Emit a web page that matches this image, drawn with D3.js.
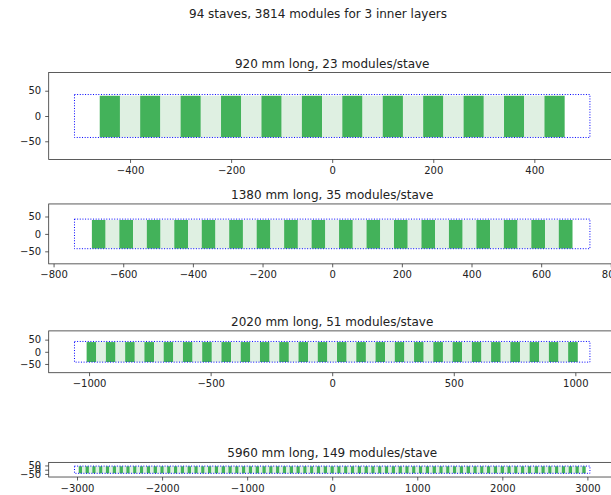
<!DOCTYPE html>
<html>
<head>
<meta charset="utf-8">
<script src="https://cdn.jsdelivr.net/npm/d3@7"></script>
<style>
  body { margin: 0; background: #fff; }
  text { font-family: "DejaVu Sans", sans-serif; fill: #222; }
</style>
</head>
<body>
<div id="chart"></div>
<script>
var w = 611;
var h = 495;

// stave data
var staveLengths = [920, 1380, 2020, 5960];      // mm
var moduleCounts = [23, 35, 51, 149];            // modules per stave
var xTickValues = [
  [-400, -200, 0, 200, 400],
  [-800, -600, -400, -200, 0, 200, 400, 600, 800],
  [-1000, -500, 0, 500, 1000],
  [-3000, -2000, -1000, 0, 1000, 2000, 3000]
];
var yTickValues = [-50, 0, 50];
var staveCount = 94;
var totalModules = 3814;
var layerCount = 3;

// geometry (mm)
var endMargin = 50;        // stave extends past modules at each end
var staveHalfHeight = 42.5;
var moduleBottom = -42, moduleTop = 40;
var yLimit = 86;

// layout (px)
var axLeft = 48.7, axRight = 615.7;
var axWidth = axRight - axLeft;
var firstCenter = 116, centerStep = 117.9;

var darkGreen = "#43b25a";
var lightGreen = "#dff0e2";
var tickFormat = d3.format("d");

var svg = d3.select("#chart")
  .append("svg")
  .attr("width", w)
  .attr("height", h);

svg.append("text")
  .attr("x", 318)
  .attr("y", 18)
  .attr("text-anchor", "middle")
  .style("font-size", "12px")
  .text(staveCount + " staves, " + totalModules + " modules for " + layerCount + " inner layers");

staveLengths.forEach(function(len, k) {
  var n = moduleCounts[k];
  var staveHalf = len / 2 + endMargin;
  var xLim = staveHalf * 1.1;
  var pxPerUnit = axWidth / (2 * xLim);
  var axHeight = 2 * yLimit * pxPerUnit;   // equal aspect
  var cy = firstCenter + centerStep * k;
  var top = cy - axHeight / 2;

  var x = d3.scaleLinear().domain([-xLim, xLim]).range([axLeft, axRight]);
  var y = d3.scaleLinear().domain([-yLimit, yLimit]).range([top + axHeight, top]);

  var g = svg.append("g");

  var modules = d3.range(n).map(function(i) {
    return { x0: -len / 2 + i * len / n, x1: -len / 2 + (i + 1) * len / n, i: i };
  });

  g.selectAll("rect.module")
    .data(modules)
    .enter()
    .append("rect")
    .attr("class", "module")
    .attr("x", function(d) { return x(d.x0); })
    .attr("width", function(d) { return x(d.x1) - x(d.x0); })
    .attr("y", y(moduleTop))
    .attr("height", y(moduleBottom) - y(moduleTop))
    .attr("fill", function(d) { return d.i % 2 === 0 ? darkGreen : lightGreen; });

  // stave outline
  g.append("rect")
    .attr("x", x(-staveHalf))
    .attr("y", y(staveHalfHeight))
    .attr("width", x(staveHalf) - x(-staveHalf))
    .attr("height", y(-staveHalfHeight) - y(staveHalfHeight))
    .attr("fill", "none")
    .attr("stroke", "#0000ff")
    .attr("stroke-width", 1)
    .attr("stroke-dasharray", "1,1.65");

  // axes
  var xAxis = d3.axisBottom(x).tickValues(xTickValues[k]).tickFormat(tickFormat)
    .tickSizeOuter(0).tickSize(3.5).tickPadding(4);
  var yAxis = d3.axisLeft(y).tickValues(yTickValues).tickFormat(tickFormat)
    .tickSizeOuter(0).tickSize(3.5).tickPadding(4);

  var gx = g.append("g")
    .attr("transform", "translate(0," + (top + axHeight) + ")")
    .call(xAxis);
  var gy = g.append("g")
    .attr("transform", "translate(" + axLeft + ",0)")
    .call(yAxis);
  [gx, gy].forEach(function(a) {
    a.select(".domain").remove();
    a.selectAll("line").attr("stroke", "#333").attr("stroke-width", 0.8);
    a.selectAll("text").style("font-size", "10px").attr("fill", "#222")
      .style("font-family", "DejaVu Sans, sans-serif");
  });

  // frame
  g.append("rect")
    .attr("x", axLeft)
    .attr("y", top)
    .attr("width", axWidth)
    .attr("height", axHeight)
    .attr("fill", "none")
    .attr("stroke", "#333")
    .attr("stroke-width", 0.8);

  g.append("text")
    .attr("x", (axLeft + axRight) / 2)
    .attr("y", top - 5)
    .attr("text-anchor", "middle")
    .style("font-size", "12px")
    .text(len + " mm long, " + n + " modules/stave");
});
</script>
</body>
</html>
